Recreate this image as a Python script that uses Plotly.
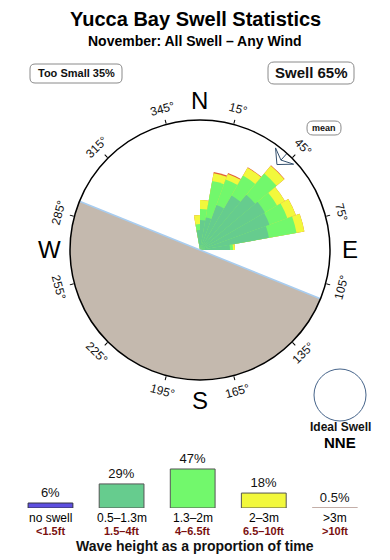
import math
import plotly.graph_objects as go

# ---------------- data ----------------
title_text = "Yucca Bay Swell Statistics"
subtitle_text = "November: All Swell – Any Wind"
too_small_text = "Too Small 35%"
swell_text = "Swell 65%"
ideal_label = "Ideal Swell"
ideal_dir_label = "NNE"
footer_text = "Wave height as a proportion of time"

# direction bins (deg, centre of 10-degree bins)
bin_dirs = [355, 5, 15, 25, 35, 45, 55, 65, 75, 85]
# frequencies per height class (arbitrary %-units), stacked outward
h_05_13 = [2.0, 3.0, 3.3, 4.8, 6.3, 7.2, 7.5, 7.4, 7.0, 3.0]
h_13_2 = [0.6, 1.1, 3.7, 2.7, 2.3, 2.8, 1.4, 1.9, 2.8, 0.3]
h_2_3 = [0.9, 0.9, 0.8, 0.6, 0.9, 1.0, 0.9, 0.9, 0.8, 0.2]
h_3p = [0.0, 0.0, 0.12, 0.1, 0.05, 0.05, 0.0, 0.0, 0.0, 0.0]
r_max = 13.0
bin_width = 10
mean_dir = 42
land_from = 112
land_to = 292

deg_ticks = [15, 45, 75, 105, 135, 165, 195, 225, 255, 285, 315, 345]
cardinals = ["N", "E", "S", "W"]
cardinal_dirs = [0, 90, 180, 270]

legend_names = ["no swell", "0.5–1.3m", "1.3–2m", "2–3m", ">3m"]
legend_ft = ["<1.5ft", "1.5–4ft", "4–6.5ft", "6.5–10ft", ">10ft"]
legend_pct = [6, 29, 47, 18, 0.5]

# ---------------- styles ----------------
W, H = 390, 560
CX, CY, R_PX = 200, 250, 130
c_none = "#5d4fe0"
c_dark = "#66cc8e"
c_bright = "#72f86c"
c_yellow = "#f2f83c"
c_red = "#e0603a"
c_big = "#c2ada6"
c_land = "#c4b9ae"
c_shore = "#a8cdf0"
FONT = "Liberation Sans, Arial, sans-serif"


def px(x):
    return x / W


def py(y):
    return 1 - y / H


def polar_px(r, ang):
    a = math.radians(ang)
    return CX + r * math.sin(a), CY - r * math.cos(a)


fig = go.Figure()

# land half disc
fig.add_trace(go.Barpolar(
    r=[r_max], theta=[(land_from + land_to) / 2], width=[land_to - land_from],
    marker=dict(color=c_land, line=dict(width=0)), hoverinfo="skip",
    showlegend=False, subplot="polar"))
# shoreline
fig.add_trace(go.Scatterpolar(
    r=[r_max, 0, r_max], theta=[land_to, land_to, land_from], mode="lines",
    line=dict(color=c_shore, width=1.5), hoverinfo="skip", showlegend=False,
    subplot="polar"))

# rose: cumulative radii, drawn outermost first and overlaid
layers = [h_05_13, h_13_2, h_2_3, h_3p]
colors = [c_dark, c_bright, c_yellow, c_red]
cums = []
run = [0.0] * len(bin_dirs)
for vals in layers:
    run = [a + b for a, b in zip(run, vals)]
    cums.append(run)
for cum, col in reversed(list(zip(cums, colors))):
    fig.add_trace(go.Barpolar(
        r=cum, theta=bin_dirs, width=[bin_width] * len(bin_dirs),
        marker=dict(color=col, line=dict(width=0)),
        hoverinfo="skip", showlegend=False, subplot="polar"))

# mean arrow (notched arrowhead pointing inward)
k = r_max / R_PX
arrow_r = [127 * k, 115 * k, 127 * k, 121 * k, 127 * k]
arrow_t = [mean_dir - 5.5, mean_dir, mean_dir + 5.5, mean_dir, mean_dir - 5.5]
fig.add_trace(go.Scatterpolar(
    r=arrow_r, theta=arrow_t, mode="lines", line=dict(color="#34506e", width=1),
    hoverinfo="skip", showlegend=False, subplot="polar"))
fig.add_trace(go.Scatterpolar(
    r=[121 * k, 132 * k], theta=[mean_dir, mean_dir], mode="lines",
    line=dict(color="#34506e", width=1),
    hoverinfo="skip", showlegend=False, subplot="polar"))

# legend bars
fig.add_trace(go.Bar(
    x=list(range(len(legend_pct))), y=legend_pct,
    marker=dict(color=[c_none, c_dark, c_bright, c_yellow, c_big],
                line=dict(color=["#333344", "#555555", "#555555", "#555555", c_big], width=1)),
    width=0.63, text=[f"{v:g}%" for v in legend_pct], textposition="outside",
    textfont=dict(size=13, color="#111", family=FONT), cliponaxis=False,
    hoverinfo="skip", showlegend=False, xaxis="x", yaxis="y"))

annotations = []
shapes = []


def ann(text, x, y, size, color="#111", xref="paper", angle=0):
    return dict(text=text, x=x, y=y, xref=xref, yref="paper", showarrow=False,
                xanchor="center", yanchor="middle", textangle=angle,
                font=dict(size=size, family=FONT, color=color))


# titles
annotations.append(ann(f"<b>{title_text}</b>", 0.5, py(19), 20, "#000"))
annotations.append(ann(f"<b>{subtitle_text}</b>", 0.5, py(41), 14, "#000"))


def rrect(x0, y0, x1, y1, r):
    pts = (f"M {px(x0 + r)},{py(y0)} L {px(x1 - r)},{py(y0)} Q {px(x1)},{py(y0)} {px(x1)},{py(y0 + r)} "
           f"L {px(x1)},{py(y1 - r)} Q {px(x1)},{py(y1)} {px(x1 - r)},{py(y1)} "
           f"L {px(x0 + r)},{py(y1)} Q {px(x0)},{py(y1)} {px(x0)},{py(y1 - r)} "
           f"L {px(x0)},{py(y0 + r)} Q {px(x0)},{py(y0)} {px(x0 + r)},{py(y0)} Z")
    return dict(type="path", path=pts, xref="paper", yref="paper",
                line=dict(color="#8a8a8a", width=1), fillcolor="rgba(0,0,0,0)")


shapes.append(rrect(30, 64, 122, 83, 5))
annotations.append(ann(f"<b>{too_small_text}</b>", px(76), py(73.5), 11))
shapes.append(rrect(268, 62, 354, 84, 6))
annotations.append(ann(f"<b>{swell_text}</b>", px(311), py(73), 15))
shapes.append(rrect(307, 121, 341, 135, 6))
annotations.append(ann("<b>mean</b>", px(324), py(128), 9))

# degree labels
for a in deg_ticks:
    x, y = polar_px(146, a)
    ang = a % 180
    if ang > 90:
        ang -= 180
    annotations.append(ann(f"{a}°", px(x), py(y), 12, angle=ang))
# cardinal letters
for lab, a in zip(cardinals, cardinal_dirs):
    x, y = polar_px(150, a)
    annotations.append(ann(lab, px(x), py(y), 24, "#000"))

# ideal swell
shapes.append(dict(type="circle", xref="paper", yref="paper", x0=px(314), x1=px(366),
                   y0=py(421), y1=py(369), line=dict(color="#46648a", width=1)))
annotations.append(ann(f"<b>{ideal_label}</b>", px(340), py(427), 12))
annotations.append(ann(f"<b>{ideal_dir_label}</b>", px(340), py(442), 15, "#000"))

# legend labels
for i, (n, f) in enumerate(zip(legend_names, legend_ft)):
    annotations.append(ann(n, i, py(518), 12, "#000", xref="x"))
    annotations.append(ann(f"<b>{f}</b>", i, py(530.5), 11, "#7a1010", xref="x"))
annotations.append(ann(f"<b>{footer_text}</b>", 0.5, py(545.5), 14))

fig.update_layout(
    width=W, height=H, margin=dict(l=0, r=0, t=0, b=0),
    paper_bgcolor="white", plot_bgcolor="white",
    font=dict(family=FONT),
    polar=dict(
        domain=dict(x=[px(CX - R_PX), px(CX + R_PX)], y=[py(CY + R_PX), py(CY - R_PX)]),
        bgcolor="white", barmode="overlay", bargap=0,
        angularaxis=dict(direction="clockwise", rotation=90, showgrid=False,
                         showline=True, linecolor="#000", linewidth=1.5,
                         tickmode="array", tickvals=deg_ticks, ticks="outside", ticklen=4,
                         tickcolor="#000", showticklabels=False),
        radialaxis=dict(visible=False, range=[0, r_max], showgrid=False),
    ),
    xaxis=dict(domain=[0, 1], range=[-0.71, 4.775], visible=False, fixedrange=True),
    yaxis=dict(domain=[py(508), py(448)], range=[0, 60 / 0.83], visible=False, fixedrange=True),
    annotations=annotations, shapes=shapes, showlegend=False,
)

fig.write_html("out.html")
